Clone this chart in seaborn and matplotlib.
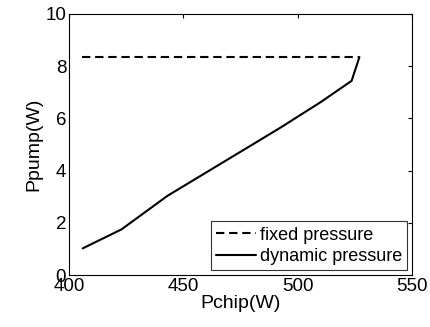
import matplotlib
matplotlib.use("Agg")
import matplotlib.pyplot as plt
import seaborn as sns
import pandas as pd

# fixed pressure curve
fixed_pchip = [405.5, 527.0]
fixed_ppump = [8.35, 8.35]

# dynamic pressure curve
dyn_pchip = [406.0, 423.0, 443.0, 492.0, 510.0, 523.6, 527.0]
dyn_ppump = [1.02, 1.75, 3.03, 5.62, 6.62, 7.44, 8.35]

x_ticks = [400, 450, 500, 550]
y_ticks = [0, 2, 4, 6, 8, 10]

sns.set_style("white")
plt.rcParams["font.family"] = ["Liberation Sans", "DejaVu Sans"]
plt.rcParams["text.color"] = "black"
plt.rcParams["axes.labelcolor"] = "black"
plt.rcParams["xtick.color"] = "black"
plt.rcParams["ytick.color"] = "black"

df = pd.concat([
    pd.DataFrame({"Pchip": fixed_pchip, "Ppump": fixed_ppump, "mode": "fixed pressure"}),
    pd.DataFrame({"Pchip": dyn_pchip, "Ppump": dyn_ppump, "mode": "dynamic pressure"}),
])

fig = plt.figure(figsize=(4.31, 3.27), dpi=100)
ax = fig.add_axes([69 / 431, 1 - 275 / 327, 343 / 431, 261 / 327])

sns.lineplot(
    data=df,
    x="Pchip",
    y="Ppump",
    hue="mode",
    style="mode",
    palette=["black", "black"],
    dashes={"fixed pressure": (4, 2.3), "dynamic pressure": ""},
    linewidth=1.5,
    sort=False,
    ax=ax
)

ax.set_xlim(400, 550)
ax.set_ylim(0, 10)
ax.set_xticks(x_ticks)
ax.set_yticks(y_ticks)
ax.tick_params(direction="in", top=True, right=True, length=3,
               labelsize=13.5, width=0.8, color="black", pad=2)
for s in ax.spines.values():
    s.set_color("black")
    s.set_linewidth(0.8)

ax.set_xlabel("Pchip(W)", fontsize=14, labelpad=0)
ax.set_ylabel("Ppump(W)", fontsize=14, labelpad=2)

leg = ax.legend(
    loc="lower right",
    fontsize=13,
    frameon=True,
    fancybox=False,
    edgecolor="black",
    borderpad=0.3,
    labelspacing=0.25,
    handlelength=2.2,
    handletextpad=0.2,
    borderaxespad=0.25
)
leg.get_frame().set_linewidth(0.8)

fig.savefig("out.png", dpi=100)
